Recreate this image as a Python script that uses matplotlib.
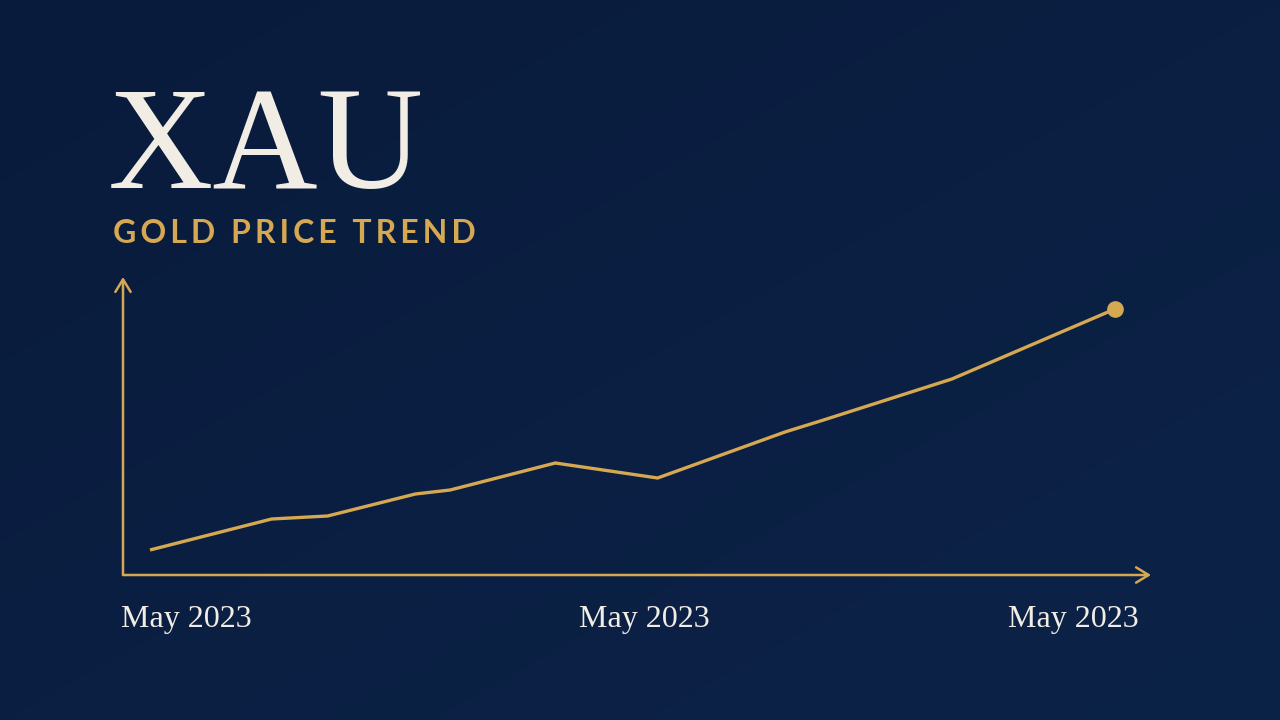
import numpy as np
import matplotlib.pyplot as plt

# data: position along the period (0-100) and relative gold price level
period_pos = [0, 12.6, 18.4, 27.5, 31.1, 42.0, 52.6, 65.8, 69.8, 83.1, 100]
price_level = [25, 56, 59, 81, 85, 112, 97, 143, 155, 196, 266]
tick_labels = ["May 2023", "May 2023", "May 2023"]

title = "XAU"
subtitle = "GOLD PRICE TREND"

GOLD = "#d6a852"
CREAM = "#f1ece4"
W, H = 1280, 720


def px(x, y):
    """pixel (from top-left) to figure fraction"""
    return x / W, 1 - y / H


fig = plt.figure(figsize=(12.8, 7.2), dpi=100)

# background: almost flat navy, a touch lighter toward the lower right
bg = fig.add_axes([0, 0, 1, 1])
yy, xx = np.mgrid[0:H:4, 0:W:4]
t = np.clip((xx / W * 0.5 + yy / H * 0.5), 0, 1)
c_a = np.array([0x09, 0x1b, 0x3c]) / 255
c_b = np.array([0x0c, 0x23, 0x48]) / 255
img = c_a[None, None, :] * (1 - t[..., None]) + c_b[None, None, :] * t[..., None]
bg.imshow(img, aspect="auto", extent=[0, 1, 1, 0], interpolation="bicubic")
bg.set_xlim(0, 1)
bg.set_ylim(1, 0)
bg.axis("off")

# title and subtitle
fig.text(*px(108, 188), title, fontsize=105, family="Liberation Serif",
         color=CREAM, va="baseline", ha="left")
hair = "\u200a"
spaced = (hair * 2).join(subtitle)
fig.text(*px(113, 243), spaced, fontsize=23, family=["Lato", "DejaVu Sans"],
         weight="bold", color=GOLD, va="baseline", ha="left")

# chart axes
left, right, top, bottom = 123, 1151, 277, 575
ax = fig.add_axes([left / W, 1 - bottom / H, (right - left) / W, (bottom - top) / H])
ax.set_facecolor("none")
x0_px, x1_px = 150, 1115
scale = 100 / (x1_px - x0_px)
ax.set_xlim(-(x0_px - left) * scale, 100 + (right - x1_px) * scale)
ax.set_ylim(0, bottom - top)
for s in ax.spines.values():
    s.set_visible(False)
ax.set_xticks([])
ax.set_yticks([])

ax.plot(period_pos, price_level, color=GOLD, lw=2.4, solid_joinstyle="miter",
        solid_capstyle="butt", zorder=3)
ax.plot(period_pos[-1], price_level[-1], "o", color=GOLD, ms=11, zorder=4)

arrow = dict(arrowstyle="->,head_length=0.9,head_width=0.55", color=GOLD, lw=1.8,
             shrinkA=0, shrinkB=0)
ax.annotate("", xy=(1, 0), xytext=(0, 0), xycoords="axes fraction", arrowprops=arrow)
ax.annotate("", xy=(0, 1), xytext=(0, 0), xycoords="axes fraction", arrowprops=arrow)

# x labels
lab_kw = dict(fontsize=23, family="Liberation Serif", color=CREAM, va="baseline")
fig.text(*px(121, 627), tick_labels[0], ha="left", **lab_kw)
fig.text(*px(644, 627), tick_labels[1], ha="center", **lab_kw)
fig.text(*px(1139, 627), tick_labels[2], ha="right", **lab_kw)

fig.savefig("out.png", dpi=100)
